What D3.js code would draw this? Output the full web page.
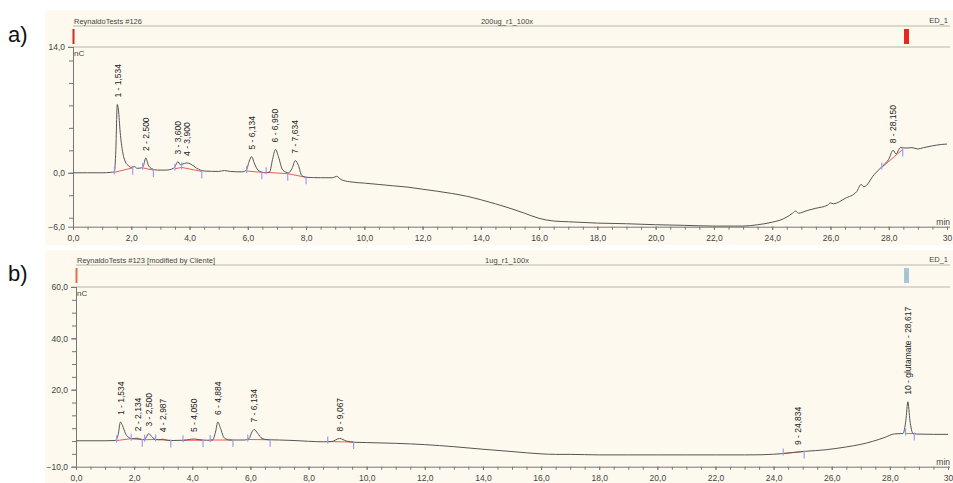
<!DOCTYPE html>
<html><head><meta charset="utf-8">
<script src="https://cdn.jsdelivr.net/npm/d3@7"></script>
<style>
body{margin:0;background:#fff}
svg text{font-family:"Liberation Sans Narrow","Liberation Sans",Arial,sans-serif}
</style>
</head><body>
<svg id="c" width="953" height="483"></svg>
<script>
// ---------- DATA ----------
const xTickLabels = [0,2,4,6,8,10,12,14,16,18,20,22,24,26,28,30];

// Panel a
const yTicksA = [14, 0, -6];
const traceA = [[0,0],[0.5,0],[1.0,0],[1.3,0.05],[1.42,0.1],[1.47,2.5],[1.52,7.6],[1.56,7.0],[1.62,4.5],[1.7,2.4],[1.8,1.2],[1.9,0.8],[2.0,0.6],[2.1,0.7],[2.2,0.5],[2.35,0.55],[2.42,0.8],[2.5,1.65],[2.58,0.9],[2.7,0.45],[2.9,0.3],[3.2,0.3],[3.45,0.5],[3.55,1.0],[3.6,1.25],[3.68,0.9],[3.75,0.95],[3.9,1.1],[4.05,0.95],[4.25,0.5],[4.5,0.2],[5.0,0.15],[5.2,0.25],[5.4,0.15],[5.8,0.1],[5.95,0.3],[6.05,1.3],[6.13,1.8],[6.22,1.1],[6.35,0.3],[6.6,0.0],[6.75,0.1],[6.85,1.5],[6.95,2.6],[7.05,1.8],[7.2,0.3],[7.4,0.0],[7.52,0.5],[7.63,1.35],[7.74,0.8],[7.85,-0.3],[8.0,-0.5],[8.5,-0.55],[8.9,-0.55],[9.05,-0.4],[9.2,-0.75],[9.5,-1.0],[10,-1.15],[10.5,-1.3],[11,-1.45],[11.5,-1.6],[12,-1.83],[12.5,-2.05],[13,-2.3],[13.5,-2.6],[14,-3.0],[14.5,-3.45],[15,-3.95],[15.5,-4.5],[16,-5.07],[16.5,-5.37],[17,-5.45],[18,-5.6],[19,-5.67],[20,-5.78],[21,-5.85],[22,-5.93],[23,-5.93],[23.5,-5.78],[24,-5.5],[24.4,-5.1],[24.7,-4.5],[24.8,-4.25],[24.9,-4.5],[25.2,-4.2],[25.5,-3.95],[25.9,-3.6],[26.0,-3.35],[26.1,-3.45],[26.5,-2.85],[26.9,-2.1],[27.05,-1.3],[27.15,-1.55],[27.5,-0.2],[27.8,0.8],[28.0,1.5],[28.15,2.5],[28.25,2.1],[28.4,2.8],[28.6,2.75],[28.8,2.8],[29.0,2.65],[29.2,2.8],[29.5,3.0],[29.8,3.15],[30,3.2]];
const peaksA = [
  {label:"1 - 1,534", t:1.534, h:7.6},
  {label:"2 - 2,500", t:2.50, h:1.65},
  {label:"3 - 3,600", t:3.60, h:1.25},
  {label:"4 - 3,900", t:3.90, h:1.1},
  {label:"5 - 6,134", t:6.134, h:1.8},
  {label:"6 - 6,950", t:6.95, h:2.6},
  {label:"7 - 7,634", t:7.634, h:1.35},
  {label:"8 - 28,150", t:28.15, h:2.5}
];
const baselinesA = [[1.42,0.05,2.05,0.55],[2.39,0.55,2.76,0.3],[3.50,0.45,3.73,0.6],[3.73,0.6,4.42,0.15],[5.96,0.2,6.48,0.05],[6.63,0.05,7.37,-0.1],[7.37,-0.1,8.0,-0.5],[27.76,0.6,28.48,2.6]];
const boundsA = [[1.42,0.05,"s"],[2.05,0.55,"e"],[2.39,0.55,"s"],[2.76,0.3,"e"],[3.50,0.45,"s"],[3.73,0.6,"s"],[4.42,0.15,"e"],[5.96,0.2,"s"],[6.48,0.05,"e"],[6.63,0.05,"s"],[7.37,-0.1,"e"],[8.0,-0.5,"e"],[27.76,0.6,"s"],[28.48,2.6,"e"]];

// Panel b
const yTicksB = [60, 40, 20, -10];
const traceB = [[0,0.1],[1.0,0.1],[1.35,0.2],[1.45,2.5],[1.53,7.4],[1.6,6.0],[1.7,3.0],[1.8,1.5],[1.95,0.9],[2.1,1.1],[2.2,0.8],[2.35,0.5],[2.42,1.5],[2.5,2.9],[2.6,1.8],[2.7,0.8],[2.85,0.5],[2.99,0.7],[3.1,0.4],[3.3,0.2],[3.7,0.3],[3.9,0.6],[4.05,0.8],[4.2,0.6],[4.5,0.3],[4.7,0.4],[4.8,3.5],[4.88,7.4],[4.97,5.0],[5.1,1.2],[5.3,0.4],[5.8,0.4],[5.95,0.9],[6.05,3.5],[6.13,4.5],[6.25,3.0],[6.4,1.0],[6.6,0.5],[7.0,0.4],[7.5,0.2],[8.0,-0.1],[8.5,-0.3],[8.8,-0.2],[9.07,1.0],[9.3,0.0],[9.6,-0.5],[10,-0.6],[11,-0.9],[12,-1.4],[13,-2.2],[14,-3.2],[15,-4.1],[16,-5.0],[16.5,-5.2],[17,-5.2],[18,-5.4],[19,-5.4],[20,-5.4],[21,-5.4],[22,-5.4],[23,-5.4],[23.6,-5.35],[24,-5.15],[24.3,-4.9],[24.83,-4.3],[25.1,-4.0],[25.8,-3.4],[26.5,-2.3],[27,-1.3],[27.4,-0.15],[27.8,1.3],[28.17,2.8],[28.45,2.9],[28.55,8.0],[28.62,15.3],[28.69,8.0],[28.8,2.9],[29,2.7],[29.5,2.6],[30,2.6]];
const peaksB = [
  {label:"1 - 1,534", t:1.534, h:7.4},
  {label:"2 - 2,134", t:2.134, h:1.1},
  {label:"3 - 2,500", t:2.50, h:2.9},
  {label:"4 - 2,987", t:2.987, h:0.7},
  {label:"5 - 4,050", t:4.05, h:0.8},
  {label:"6 - 4,884", t:4.884, h:7.4},
  {label:"7 - 6,134", t:6.134, h:4.5},
  {label:"8 - 9,067", t:9.067, h:1.0},
  {label:"9 - 24,834", t:24.834, h:-4.3},
  {label:"10 - glutamate - 28,617", t:28.617, h:15.3}
];
const baselinesB = [[1.40,0.2,1.90,0.9],[1.90,0.9,2.28,0.5],[2.36,0.5,2.74,0.6],[2.74,0.6,3.26,0.2],[3.68,0.3,4.37,0.3],[4.62,0.4,5.40,0.4],[5.91,0.6,6.68,0.5],[8.66,-0.2,9.55,-0.4],[24.33,-4.85,25.05,-4.05],[28.54,2.9,28.84,2.9]];
const boundsB = [[1.40,0.2,"s"],[1.90,0.9,"s"],[2.28,0.5,"e"],[2.36,0.5,"s"],[2.74,0.6,"s"],[3.26,0.2,"e"],[3.68,0.3,"s"],[4.37,0.3,"e"],[4.62,0.4,"s"],[5.40,0.4,"e"],[5.91,0.6,"s"],[6.68,0.5,"e"],[8.66,-0.2,"s"],[9.55,-0.4,"e"],[24.33,-4.85,"s"],[25.05,-4.05,"e"],[28.54,2.9,"s"],[28.84,2.9,"e"]];

// ---------- DRAW ----------
const svg = d3.select("#c");
svg.append("rect").attr("width",953).attr("height",483).attr("fill","#fff");

const panels = [
  {tag:"a)", tagY:42, bg:[45,10,908,235], x0:73, x1:947, yTop:47, yBot:226.7, yMax:14, yMin:-6, head:26,
   name:"ReynaldoTests #126", mid:"200ug_r1_100x", yTicks:yTicksA, minor:2.5,
   trace:traceA, peaks:peaksA, bases:baselinesA, bounds:boundsA, rightMark:"red"},
  {tag:"b)", tagY:281, bg:[45,250,908,233], x0:76, x1:948, yTop:287, yBot:466.7, yMax:60, yMin:-10, head:265,
   name:"ReynaldoTests #123 [modified by Cliente]", mid:"1ug_r1_100x", yTicks:yTicksB, minor:5,
   trace:traceB, peaks:peaksB, bases:baselinesB, bounds:boundsB, rightMark:"blue"}
];

const fmt = v => d3.format(".1f")(v).replace(".", ",");
const lineCol = "#b9b6ab";

panels.forEach(p => {
  const g = svg.append("g");
  g.append("rect").attr("x",p.bg[0]).attr("y",p.bg[1]).attr("width",p.bg[2]).attr("height",p.bg[3]).attr("fill","#fdf9ee");
  g.append("text").attr("x",8).attr("y",p.tagY).attr("font-size",22).style("font-family","Liberation Sans, Arial").attr("fill","#111").text(p.tag);

  const x = d3.scaleLinear().domain([0,30]).range([p.x0,p.x1]);
  const y = d3.scaleLinear().domain([p.yMin,p.yMax]).range([p.yBot,p.yTop]);

  // header band
  g.append("line").attr("x1",p.x0).attr("x2",950).attr("y1",p.head).attr("y2",p.head).attr("stroke",lineCol);
  g.append("line").attr("x1",p.x0-5).attr("x2",950).attr("y1",p.yTop).attr("y2",p.yTop).attr("stroke",lineCol);
  g.append("text").attr("x",p.x0+1).attr("y",p.head-2).attr("font-size",7.5).attr("fill","#444").text(p.name);
  g.append("text").attr("x",507).attr("y",p.head-2).attr("font-size",7.5).attr("fill","#444").attr("text-anchor","middle").text(p.mid);
  g.append("text").attr("x",948).attr("y",p.head-3).attr("font-size",7.5).attr("fill","#444").attr("text-anchor","end").text("ED_1");
  // header markers
  g.append("rect").attr("x",p.x0-0.5).attr("y",p.head+3).attr("width",2).attr("height",15).attr("fill",p.rightMark==="red"?"#d42a20":"#e07050");
  if (p.rightMark==="red") {
    g.append("rect").attr("x",904).attr("y",p.head+3).attr("width",5).attr("height",15).attr("fill","#e8281e");
  } else {
    g.append("rect").attr("x",904).attr("y",p.head+3).attr("width",5).attr("height",15).attr("fill","#a8c4e8");
    g.append("rect").attr("x",905.5).attr("y",p.head+7).attr("width",2).attr("height",8).attr("fill","#9cc9a0");
  }

  // axes
  const xAxisMinor = d3.axisBottom(x).tickValues(d3.range(0,30.01,0.5)).tickSize(3).tickFormat("");
  g.append("g").attr("transform",`translate(0,${p.yBot})`).call(xAxisMinor)
    .call(a=>a.select(".domain").attr("stroke","#777").attr("d",`M${p.x0},0.5H950`))
    .call(a=>a.selectAll("line").attr("stroke","#777"));
  const xAxis = d3.axisBottom(x).tickValues(xTickLabels).tickSize(3).tickFormat(v=> v===30 ? "30" : fmt(v));
  g.append("g").attr("transform",`translate(0,${p.yBot})`).call(xAxis)
    .call(a=>a.select(".domain").remove())
    .call(a=>a.selectAll("line").attr("stroke","#777"))
    .call(a=>a.selectAll("text").attr("font-size",8.5).attr("fill","#444").attr("dy","0.95em").style("font-family","Liberation Sans, Arial"));

  const minorY = d3.range(Math.ceil(p.yMin/p.minor)*p.minor, p.yMax+0.001, p.minor);
  const yAxisMinor = d3.axisLeft(y).tickValues(minorY).tickSize(4).tickFormat("");
  g.append("g").attr("transform",`translate(${p.x0},0)`).call(yAxisMinor)
    .call(a=>a.select(".domain").attr("stroke","#777").attr("d",`M0.5,${p.yTop}V${p.yBot}`))
    .call(a=>a.selectAll("line").attr("stroke","#777"));
  const yAxis = d3.axisLeft(y).tickValues(p.yTicks).tickSize(5).tickFormat(fmt);
  g.append("g").attr("transform",`translate(${p.x0},0)`).call(yAxis)
    .call(a=>a.select(".domain").remove())
    .call(a=>a.selectAll("line").attr("stroke","#777"))
    .call(a=>a.selectAll("text").attr("font-size",8.5).attr("fill","#444").style("font-family","Liberation Sans, Arial"));

  g.append("text").attr("x",p.x0+1).attr("y",p.yTop+9).attr("font-size",8).attr("fill","#444").text("nC");
  g.append("text").attr("x",950).attr("y",p.yBot-2).attr("font-size",8.5).attr("fill","#444").attr("text-anchor","end").text("min");

  // baselines (integration)
  g.selectAll(".bl").data(p.bases).join("line")
    .attr("x1",d=>x(d[0])).attr("y1",d=>y(d[1])).attr("x2",d=>x(d[2])).attr("y2",d=>y(d[3]))
    .attr("stroke","#f05a5a").attr("stroke-width",1);
  // trace
  const line = d3.line().x(d=>x(d[0])).y(d=>y(d[1])).curve(d3.curveMonotoneX);
  g.append("path").datum(p.trace).attr("d",line).attr("fill","none").attr("stroke","#555").attr("stroke-width",1);
  // boundary markers
  g.selectAll(".bd").data(p.bounds).join("line")
    .attr("x1",d=>x(d[0])).attr("x2",d=>x(d[0]))
    .attr("y1",d=>y(d[1]) + (d[2]==="s" ? -5 : -1))
    .attr("y2",d=>y(d[1]) + (d[2]==="s" ? 2 : 7))
    .attr("stroke","#9a9ef5").attr("stroke-width",1.2);
  // peak labels
  g.selectAll(".pl").data(p.peaks).join("text")
    .attr("transform",d=>`translate(${x(d.t)},${y(d.h)-7}) rotate(-90)`)
    .attr("dy","0.35em").attr("font-size",8.5).attr("fill","#222")
    .style("font-family","Liberation Sans, Arial")
    .text(d=>d.label);
});
</script>
</body></html>
